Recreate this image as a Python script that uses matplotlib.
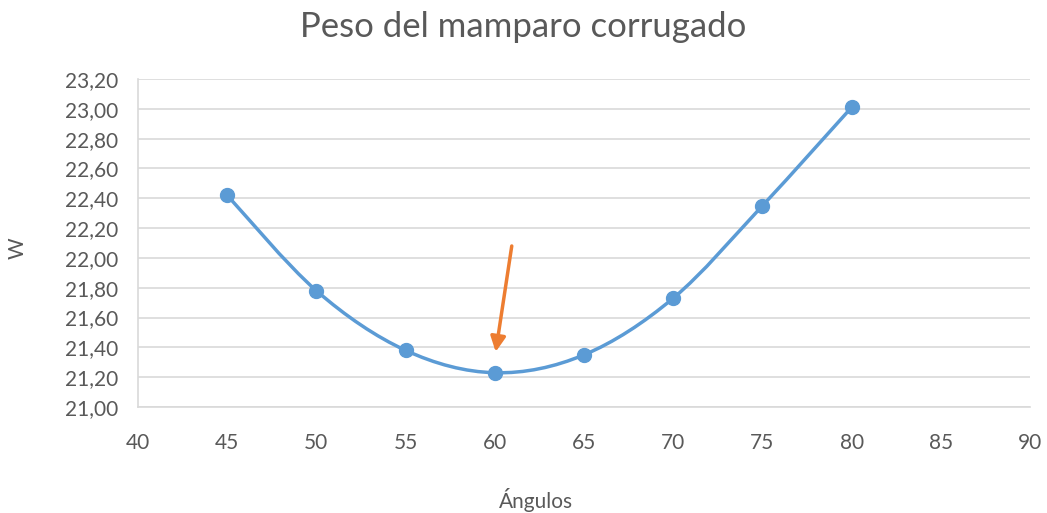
import matplotlib
matplotlib.use("Agg")
import matplotlib.pyplot as plt
from matplotlib.path import Path
from matplotlib.patches import PathPatch
from matplotlib.ticker import FuncFormatter, MultipleLocator

# Data
angulos = [45, 50, 55, 60, 65, 70, 75, 80]
peso = [22.42, 21.78, 21.38, 21.23, 21.35, 21.73, 22.35, 23.01]

# arrow pointing to the minimum
arrow_start = (60.95, 22.08)
arrow_end = (60.05, 21.37)

blue = "#5B9BD5"
orange = "#ED7D31"
grid_col = "#D9D9D9"
text_col = "#595959"

plt.rcParams['font.family'] = ['Lato', 'DejaVu Sans']

fig = plt.figure(figsize=(10.47, 5.13), dpi=100)
ax = fig.add_axes([0.1318, 0.2066, 0.852, 0.6394])


# smoothed line like Excel (Catmull-Rom converted to Bezier segments)
def smooth_path(xs, ys):
    pts = list(zip(xs, ys))
    verts = [pts[0]]
    codes = [Path.MOVETO]
    n = len(pts)
    for i in range(n - 1):
        p0 = pts[i - 1] if i > 0 else pts[i]
        p1 = pts[i]
        p2 = pts[i + 1]
        p3 = pts[i + 2] if i + 2 < n else pts[i + 1]
        c1 = (p1[0] + (p2[0] - p0[0]) / 6, p1[1] + (p2[1] - p0[1]) / 6)
        c2 = (p2[0] - (p3[0] - p1[0]) / 6, p2[1] - (p3[1] - p1[1]) / 6)
        verts += [c1, c2, p2]
        codes += [Path.CURVE4] * 3
    return Path(verts, codes)


ax.add_patch(PathPatch(smooth_path(angulos, peso), facecolor="none",
                       edgecolor=blue, lw=2.5, zorder=3))
ax.plot(angulos, peso, linestyle="none", marker="o", markersize=10,
        color=blue, zorder=4)

ax.annotate("", xy=arrow_end, xytext=arrow_start,
            arrowprops=dict(arrowstyle="-|>,head_length=0.9,head_width=0.45",
                            color=orange, lw=2.5, shrinkA=0, shrinkB=0),
            zorder=5)

ax.set_xlim(40, 90)
ax.set_ylim(21.0, 23.2)
ax.xaxis.set_major_locator(MultipleLocator(5))
ax.yaxis.set_major_locator(MultipleLocator(0.2))
ax.yaxis.set_major_formatter(FuncFormatter(lambda v, p: f"{v:.2f}".replace(".", ",")))

ax.grid(axis="y", color=grid_col, lw=1.2)
ax.set_axisbelow(True)
for s in ["top", "right"]:
    ax.spines[s].set_visible(False)
for s in ["left", "bottom"]:
    ax.spines[s].set_color(grid_col)
    ax.spines[s].set_linewidth(1.2)
ax.tick_params(length=0, labelsize=15, colors=text_col)
ax.tick_params(axis="y", pad=14)
ax.tick_params(axis="x", pad=19)

fig.suptitle("Peso del mamparo corrugado", fontsize=25, color=text_col,
             x=0.5, y=0.947, va="center")
ax.set_xlabel("Ángulos", fontsize=15, color=text_col, va="center")
ax.xaxis.set_label_coords(0.512, 0.025, transform=fig.transFigure)
ax.set_ylabel("W", fontsize=15, color=text_col, va="center")
ax.yaxis.set_label_coords(0.017, 0.517, transform=fig.transFigure)

fig.savefig("out.png", dpi=100)
